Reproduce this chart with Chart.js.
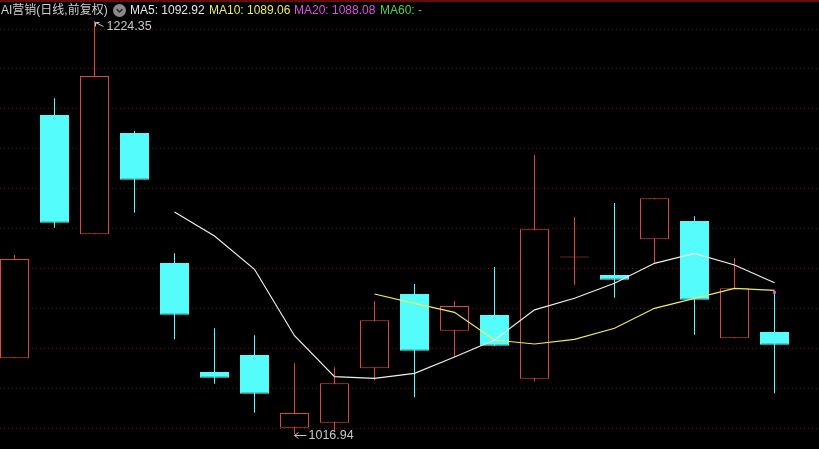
<!DOCTYPE html>
<html>
<head>
<meta charset="utf-8">
<script src="https://cdn.jsdelivr.net/npm/chart.js@4.4.1/dist/chart.umd.min.js"></script>
<style>
html, body { margin: 0; padding: 0; background: #000; overflow: hidden; }
#wrap { position: relative; width: 819px; height: 449px; }
#topline { position: absolute; left: 0; top: 0; width: 819px; height: 2px; background: #6a0b0b; }
.t { position: absolute; top: 2px; font: 12px "Liberation Sans", "Noto Sans CJK SC", sans-serif; white-space: nowrap; line-height: 16px; }
#icon { position: absolute; left: 113px; top: 4px; width: 13px; height: 13px; }
</style>
</head>
<body>
<div id="wrap">
  <canvas id="kline" width="819" height="449"></canvas>
  <div id="topline"></div>
  <span class="t" style="left:1px;color:#cfcfcf">AI营销(日线,前复权)</span>
  <svg id="icon" viewBox="0 0 13 13"><circle cx="6.5" cy="6.5" r="6.5" fill="#8a8a8a"/><path d="M3.6 5.2 L6.5 8 L9.4 5.2" stroke="#2a2a2a" stroke-width="1.6" fill="none"/></svg>
  <span class="t" style="left:130px;color:#e6e6e6">MA5: 1092.92</span>
  <span class="t" style="left:209px;color:#ecec60">MA10: 1089.06</span>
  <span class="t" style="left:294px;color:#e050e0">MA20: 1088.08</span>
  <span class="t" style="left:380px;color:#50d050">MA60: -</span>
</div>
<script>
"use strict";
// day slots (no date labels shown on the chart)
var days = [0, 1, 2, 3, 4, 5, 6, 7, 8, 9, 10, 11, 12, 13, 14, 15, 16, 17, 18, 19];

var open  = [1054.96, 1177.14, 1117.23, 1168.10, 1102.82, 1048.08, 1056.62, 1020.11, 1022.62, 1049.93,
             1087.25, 1068.82, 1076.70, 1044.71, 1105.60, 1096.79, 1114.72, 1123.91, 1065.00, 1068.17];
var high  = [1106.84, 1185.53, 1224.35, 1169.26, 1107.69, 1070.02, 1066.51, 1052.45, 1050.44, 1083.73,
             1092.27, 1083.73, 1100.81, 1157.06, 1125.92, 1132.95, 1135.31, 1126.27, 1105.33, 1088.40];
var low   = [1054.96, 1120.55, 1117.23, 1128.08, 1064.50, 1042.20, 1027.64, 1016.94, 1018.10, 1043.91,
             1035.37, 1055.46, 1061.29, 1043.40, 1091.92, 1085.39, 1102.67, 1066.81, 1065.00, 1037.38];
var close = [1104.83, 1123.06, 1196.73, 1144.65, 1076.86, 1045.22, 1037.18, 1027.49, 1042.40, 1074.04,
             1058.78, 1081.22, 1061.29, 1119.74, 1105.70, 1094.43, 1135.31, 1084.39, 1090.11, 1061.79];

var ma5  = [null, null, null, null, 1128.43, 1116.38, 1099.65, 1066.31, 1045.72, 1044.91,
            1047.42, 1055.61, 1064.15, 1079.28, 1085.09, 1092.62, 1102.67, 1107.69, 1101.81, 1092.92];
var ma10 = [null, null, null, null, null, null, null, null, null, 1087.25,
            1082.58, 1078.06, 1064.15, 1062.14, 1064.50, 1070.02, 1080.07, 1085.09, 1090.11, 1089.06];
var ma20 = [null, null, null, null, null, null, null, null, null, null,
            null, null, null, null, null, null, null, null, null, 1088.08];

// horizontal dotted guide levels
var gridLevels = [1220.33, 1200.29, 1180.25, 1160.21, 1140.17, 1120.13, 1100.09, 1080.05, 1060.01, 1039.97, 1019.93];

var UP = "#dc4646", DOWN = "#54fcfc";

function isUp(i) { return close[i] >= open[i]; }
function pts(arr) { return days.map(function (d, i) { return { x: d, y: arr[i] }; }); }

var hiLoMarks = {
    id: "hiLoMarks",
    afterDatasetsDraw: function (chart) {
        var xs = chart.scales.x, ys = chart.scales.y, c = chart.ctx;
        var iH = high.indexOf(Math.max.apply(null, high));
        var iL = low.indexOf(Math.min.apply(null, low));
        c.save();
        c.strokeStyle = "#c8c8c8";
        c.fillStyle = "#c8c8c8";
        c.lineWidth = 1;
        c.font = "12.5px 'Liberation Sans', sans-serif";
        c.textBaseline = "middle";

        var x = Math.round(xs.getPixelForValue(days[iH])) + 0.5, y = Math.round(ys.getPixelForValue(high[iH])) + 0.5;
        c.beginPath();
        c.moveTo(x + 1, y + 1); c.lineTo(x + 9, y + 5);
        c.moveTo(x + 1, y + 1); c.lineTo(x + 5, y + 1);
        c.moveTo(x + 1, y + 1); c.lineTo(x + 1, y + 5);
        c.stroke();
        c.fillText(high[iH].toFixed(2), x + 12, y + 5);

        x = Math.round(xs.getPixelForValue(days[iL])) + 0.5; y = Math.round(ys.getPixelForValue(low[iL])) + 0.5;
        c.beginPath();
        c.moveTo(x, y + 1); c.lineTo(x + 12, y + 1);
        c.moveTo(x, y + 1); c.lineTo(x + 4, y - 2);
        c.moveTo(x, y + 1); c.lineTo(x + 4, y + 4);
        c.stroke();
        c.fillText(low[iL].toFixed(2), x + 14, y + 1);
        c.restore();
    }
};

var ctx = document.getElementById("kline");
var kline = new Chart(ctx, {
    type: "bar",
    data: {
        datasets: [{
            label: "wick",
            order: 3,
            data: days.map(function (d, i) { return { x: d, y: [low[i], high[i]] }; }),
            backgroundColor: function (c) { return isUp(c.dataIndex) ? UP : DOWN; },
            borderWidth: 0,
            barThickness: 1,
            grouped: false,
            inflateAmount: 0
        }, {
            label: "body",
            order: 2,
            data: days.map(function (d, i) { return { x: d, y: [open[i], close[i]] }; }),
            backgroundColor: function (c) {
                var i = c.dataIndex;
                if (Math.abs(close[i] - open[i]) < 0.5) return UP;
                return isUp(i) ? "#000000" : DOWN;
            },
            borderColor: function (c) { return isUp(c.dataIndex) ? UP : DOWN; },
            borderWidth: 1,
            borderSkipped: false,
            barThickness: 29,
            minBarLength: 1,
            grouped: false,
            inflateAmount: 0
        }, {
            type: "line",
            label: "MA5",
            order: 1,
            data: pts(ma5),
            borderColor: "#eeeeee",
            borderWidth: 1.2,
            pointRadius: 0,
            tension: 0
        }, {
            type: "line",
            label: "MA10",
            order: 1,
            data: pts(ma10),
            borderColor: "#ecec60",
            borderWidth: 1.2,
            pointRadius: 0,
            tension: 0
        }, {
            type: "line",
            label: "MA20",
            order: 0,
            data: pts(ma20),
            borderColor: "#e050e0",
            backgroundColor: "#e050e0",
            borderWidth: 1,
            pointStyle: "rect",
            pointRadius: 1.5,
            tension: 0
        }]
    },
    options: {
        responsive: false,
        animation: false,
        events: [],
        layout: { padding: 0, autoPadding: false },
        plugins: { legend: { display: false }, tooltip: { enabled: false } },
        scales: {
            x: { type: "linear", display: false, offset: false, min: -0.3625, max: 20.1125 },
            y: {
                min: 1009.41,
                max: 1234.896,
                ticks: { display: false },
                grid: { color: "#641414", lineWidth: 1, drawTicks: false },
                border: { display: false, dash: [1, 3] },
                afterFit: function (s) { s.width = 0; },
                afterBuildTicks: function (s) { s.ticks = gridLevels.map(function (v) { return { value: v }; }); }
            }
        }
    },
    plugins: [hiLoMarks]
});
</script>
</body>
</html>
